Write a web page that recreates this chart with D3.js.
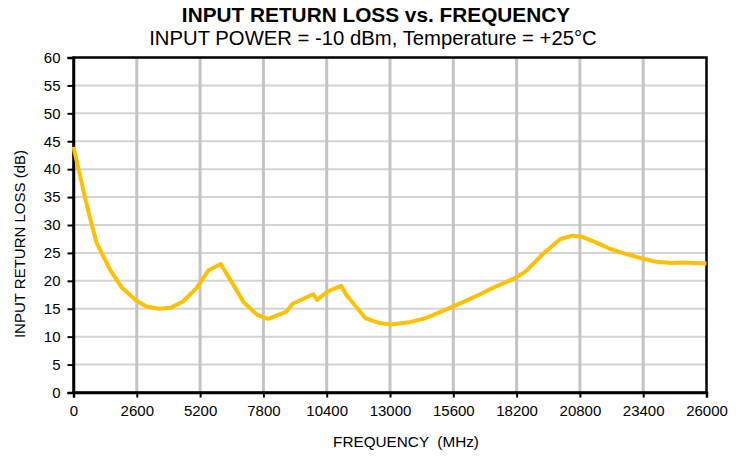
<!DOCTYPE html>
<html>
<head>
<meta charset="utf-8">
<script src="https://cdn.jsdelivr.net/npm/d3@7"></script>
<style>
  body { margin: 0; background: #fff; }
  text { font-family: Arial, "Liberation Sans", sans-serif; fill: #000; }
</style>
</head>
<body>
<script>
// data
const freq = [0, 450, 700, 950, 1500, 2000, 2600, 3000, 3500, 4000, 4500, 5050, 5550, 6050,
  7000, 7550, 8000, 8750, 9000, 9850, 10000, 10450, 11000, 11200, 12000, 12600, 13050,
  13800, 14450, 15050, 15700, 16200, 16700, 17200, 18050, 18550, 19300, 20000, 20500,
  20950, 21500, 22050, 22700, 23450, 23950, 24550, 25050, 26000]
const returnLoss = [44.0, 35.3, 30.9, 26.8, 22.0, 18.7, 16.4, 15.4, 15.0, 15.2, 16.3, 18.7, 21.9, 23.0,
  16.1, 13.9, 13.2, 14.5, 15.9, 17.6, 16.6, 18.1, 19.1, 17.5, 13.3, 12.4, 12.2,
  12.6, 13.3, 14.4, 15.6, 16.6, 17.6, 18.7, 20.3, 21.6, 24.9, 27.5, 28.1,
  27.8, 26.8, 25.7, 24.8, 23.9, 23.4, 23.2, 23.3, 23.1]
const xTicks = d3.range(0, 26001, 2600)
const yTicks = d3.range(0, 61, 5)

const width = 746
const height = 457
const margin = { top: 57.5, right: 39.5, bottom: 64.5, left: 73.5 }
const iw = width - margin.left - margin.right
const ih = height - margin.top - margin.bottom

const svg = d3.select('body').append('svg')
  .attr('width', width)
  .attr('height', height)

svg.append('text')
  .attr('x', 376).attr('y', 22)
  .attr('text-anchor', 'middle')
  .style('font-size', '20.8px').style('font-weight', 'bold')
  .text('INPUT RETURN LOSS vs. FREQUENCY')

svg.append('text')
  .attr('x', 373).attr('y', 45)
  .attr('text-anchor', 'middle')
  .style('font-size', '20.3px')
  .text('INPUT POWER = -10 dBm, Temperature = +25°C')

const g = svg.append('g')
  .attr('transform', `translate(${margin.left}, ${margin.top})`)

const x = d3.scaleLinear().domain([0, 26000]).range([0, iw])
const y = d3.scaleLinear().domain([0, 60]).range([ih, 0])

// grid
g.selectAll('.hgrid')
  .data(yTicks.filter(d => d > 0 && d < 60))
  .join('line')
  .attr('x1', 0).attr('x2', iw)
  .attr('y1', d => y(d)).attr('y2', d => y(d))
  .attr('stroke', '#d4d4d4').attr('stroke-width', 2)

g.selectAll('.vgrid')
  .data(xTicks.filter(d => d > 0 && d < 26000))
  .join('line')
  .attr('x1', d => x(d)).attr('x2', d => x(d))
  .attr('y1', 0).attr('y2', ih)
  .attr('stroke', '#c4c4c4').attr('stroke-width', 3)

// frame
g.append('rect')
  .attr('width', iw).attr('height', ih)
  .attr('fill', 'none').attr('stroke', '#000').attr('stroke-width', 2.5)

const xAxis = g.append('g')
  .attr('transform', `translate(0, ${ih})`)
  .call(d3.axisBottom(x).tickValues(xTicks).tickFormat(d3.format('d')).tickSize(5).tickPadding(8))
const yAxis = g.append('g')
  .call(d3.axisLeft(y).tickValues(yTicks).tickSize(6).tickPadding(7))

for (const ax of [xAxis, yAxis]) {
  ax.select('.domain').attr('stroke', '#000').attr('stroke-width', 2.5)
  ax.selectAll('.tick line').attr('stroke', '#000').attr('stroke-width', 2)
  ax.selectAll('.tick text')
    .style('font-size', '15px').style('font-family', 'Arial, "Liberation Sans", sans-serif')
    .attr('fill', '#000')
}

// curve
const line = d3.line()
  .x((d, i) => x(freq[i]))
  .y(d => y(d))

g.append('path')
  .datum(returnLoss)
  .attr('d', line)
  .attr('fill', 'none')
  .attr('stroke', '#ffc000')
  .attr('stroke-width', 4)
  .attr('stroke-linejoin', 'round')

svg.append('text')
  .attr('x', 406).attr('y', 447)
  .attr('text-anchor', 'middle')
  .style('font-size', '15.3px')
  .attr('xml:space', 'preserve')
  .text('FREQUENCY  (MHz)')

svg.append('text')
  .attr('transform', 'translate(25, 244) rotate(-90)')
  .attr('text-anchor', 'middle')
  .style('font-size', '15px')
  .text('INPUT RETURN LOSS (dB)')
</script>
</body>
</html>
